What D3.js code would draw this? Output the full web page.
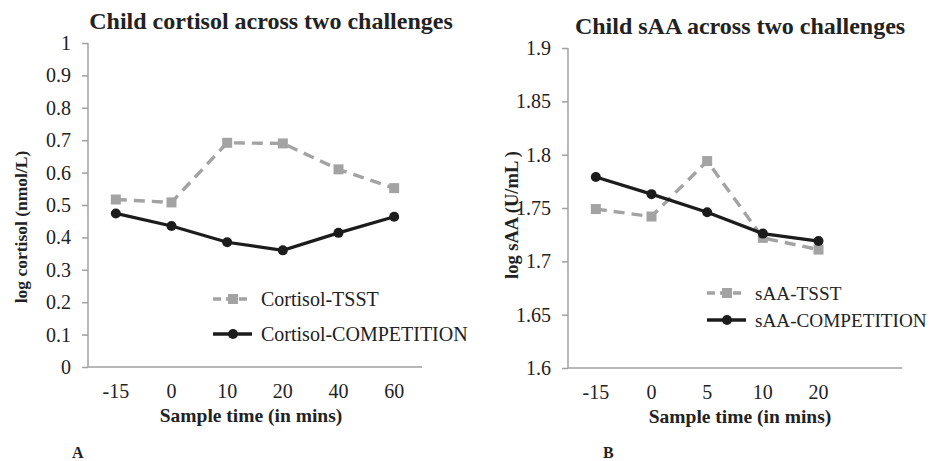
<!DOCTYPE html>
<html lang="en">
<head>
  <meta charset="utf-8">
  <title>Child cortisol and sAA across two challenges</title>
  <script src="https://d3js.org/d3.v7.min.js"></script>
  <style>
    body { margin: 0; background: #fff; }
    svg text { font-family: "Liberation Serif", "Times New Roman", serif; fill: #222; }
    .title { font-weight: bold; font-size: 24px; }
    .xlabel { font-weight: bold; font-size: 19.5px; }
    .ylabel { font-weight: bold; font-size: 17.5px; }
    .letter { font-weight: bold; font-size: 16px; }
  </style>
</head>
<body>
<div id="chart"></div>
<script>
  // panel A: cortisol
  var cortTimes = ["-15", "0", "10", "20", "40", "60"];
  var cortTSST = [0.517, 0.508, 0.692, 0.690, 0.610, 0.552];
  var cortComp = [0.474, 0.435, 0.385, 0.360, 0.414, 0.464];
  var cortTicks = [0, 0.1, 0.2, 0.3, 0.4, 0.5, 0.6, 0.7, 0.8, 0.9, 1];

  // panel B: sAA
  var saaTimes = ["-15", "0", "5", "10", "20"];
  var saaTSST = [1.749, 1.742, 1.794, 1.722, 1.711];
  var saaComp = [1.779, 1.763, 1.746, 1.726, 1.719];
  var saaTicks = [1.6, 1.65, 1.7, 1.75, 1.8, 1.85, 1.9];

  var w = 933, h = 461;
  var svg = d3.select("#chart").append("svg").attr("width", w).attr("height", h);

  var grey = "#a3a3a3", black = "#1c1c1c", axisCol = "#a0a0a0";

  function panel(opt) {
    var g = svg.append("g");
    var slot = (opt.x1 - opt.x0) / opt.slots;
    var x = d3.scaleBand().domain(opt.times)
      .range([opt.x0, opt.x0 + slot * opt.times.length]);
    var y = d3.scaleLinear().domain(opt.yDomain).range([opt.y0, opt.y1]);

    // y axis
    var ya = g.append("g").attr("transform", "translate(" + opt.x0 + ",0)")
      .call(d3.axisLeft(y).tickValues(opt.ticks).tickSize(6).tickPadding(11)
        .tickFormat(d3.format("")));
    ya.selectAll("line, path").attr("stroke", axisCol).attr("stroke-width", 1.5);
    ya.select(".domain").attr("d", "M0," + opt.y0 + "V" + opt.y1);
    ya.selectAll(".tick text").attr("fill", "#222")
      .style("font-family", "Liberation Serif").style("font-size", "20px");

    // x axis line across all slots
    g.append("line").attr("x1", opt.x0).attr("x2", opt.x1)
      .attr("y1", opt.y0).attr("y2", opt.y0)
      .attr("stroke", axisCol).attr("stroke-width", 1.5);
    var xa = g.append("g").attr("transform", "translate(0," + opt.y0 + ")")
      .call(d3.axisBottom(x).tickSize(0).tickPadding(17));
    xa.select(".domain").remove();
    xa.selectAll(".tick text").attr("fill", "#222")
      .style("font-family", "Liberation Serif").style("font-size", "20px");

    var line = d3.line()
      .x(function (d, i) { return x(opt.times[i]) + x.bandwidth() / 2; })
      .y(function (d) { return y(d); });

    g.append("path").datum(opt.tsst).attr("d", line)
      .attr("fill", "none").attr("stroke", grey).attr("stroke-width", 3.4)
      .attr("stroke-dasharray", "11,7");
    g.selectAll(".sq").data(opt.tsst).enter().append("rect")
      .attr("x", function (d, i) { return x(opt.times[i]) + x.bandwidth() / 2 - 5; })
      .attr("y", function (d) { return y(d) - 5; })
      .attr("width", 10).attr("height", 10).attr("fill", grey);

    g.append("path").datum(opt.comp).attr("d", line)
      .attr("fill", "none").attr("stroke", black).attr("stroke-width", 3.2);
    g.selectAll(".dot").data(opt.comp).enter().append("circle")
      .attr("cx", function (d, i) { return x(opt.times[i]) + x.bandwidth() / 2; })
      .attr("cy", function (d) { return y(d); })
      .attr("r", 5).attr("fill", black);

    // titles
    g.append("text").attr("class", "title").attr("x", opt.titleX).attr("y", opt.titleY)
      .attr("text-anchor", "middle").text(opt.title);
    g.append("text").attr("class", "xlabel").attr("x", opt.xlabX)
      .attr("y", opt.y0 + 55).attr("text-anchor", "middle").text("Sample time (in mins)");
    g.append("text").attr("class", "ylabel")
      .attr("transform", "translate(" + opt.ylabX + "," + opt.ylabY + ") rotate(-90)")
      .attr("text-anchor", "middle").attr("dy", "0.35em")
      .style("font-size", opt.ylabSize).text(opt.ylab);
    g.append("text").attr("class", "letter").attr("x", opt.letterX).attr("y", 458)
      .text(opt.letter);

    // legend
    var lg = g.append("g").attr("class", "legend");
    var items = [
      { name: opt.names[0], col: grey, dash: "8,5", mark: "sq", y: opt.legY[0] },
      { name: opt.names[1], col: black, dash: null, mark: "dot", y: opt.legY[1] }
    ];
    items.forEach(function (it) {
      lg.append("line").attr("x1", opt.legX).attr("x2", opt.legX + 39)
        .attr("y1", it.y).attr("y2", it.y).attr("stroke", it.col)
        .attr("stroke-width", 3.4).attr("stroke-dasharray", it.dash);
      if (it.mark === "sq") {
        lg.append("rect").attr("x", opt.legX + 15).attr("y", it.y - 5)
          .attr("width", 10).attr("height", 10).attr("fill", it.col);
      } else {
        lg.append("circle").attr("cx", opt.legX + 20).attr("cy", it.y)
          .attr("r", 5).attr("fill", it.col);
      }
      lg.append("text").attr("x", opt.legX + 48).attr("y", it.y)
        .attr("dy", "0.35em").style("font-size", opt.legSize).text(it.name);
    });
  }

  panel({
    times: cortTimes, tsst: cortTSST, comp: cortComp, ticks: cortTicks,
    yDomain: [0, 1], slots: 6,
    x0: 88, x1: 422, y0: 367, y1: 43,
    title: "Child cortisol across two challenges", titleX: 271, titleY: 29,
    xlabX: 251,
    ylab: "log cortisol (nmol/L)", ylabX: 21, ylabY: 227, ylabSize: "17.5px",
    letter: "A", letterX: 72,
    names: ["Cortisol-TSST", "Cortisol-COMPETITION"],
    legX: 213, legY: [299, 334], legSize: "20px"
  });

  panel({
    times: saaTimes, tsst: saaTSST, comp: saaComp, ticks: saaTicks,
    yDomain: [1.6, 1.9], slots: 6,
    x0: 568, x1: 902, y0: 368, y1: 48,
    title: "Child sAA across two challenges", titleX: 740, titleY: 34,
    xlabX: 740,
    ylab: "log sAA (U/mL )", ylabX: 512, ylabY: 215, ylabSize: "18.5px",
    letter: "B", letterX: 603,
    names: ["sAA-TSST", "sAA-COMPETITION"],
    legX: 707, legY: [293, 320], legSize: "19.2px"
  });
</script>
</body>
</html>
